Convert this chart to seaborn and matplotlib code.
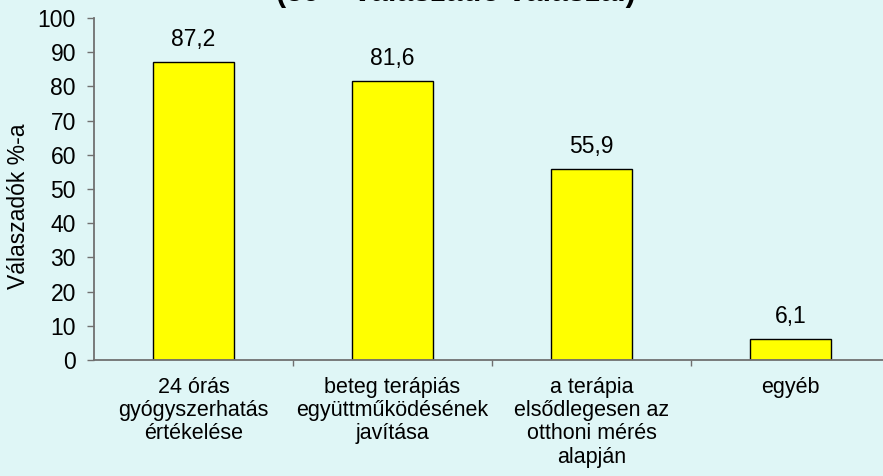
import matplotlib
matplotlib.use("Agg")
import matplotlib.pyplot as plt
import seaborn as sns
import pandas as pd

categories = ["24 órás\ngyógyszerhatás\nértékelése",
              "beteg terápiás\negyüttműködésének\njavítása",
              "a terápia\nelsődlegesen az\notthoni mérés\nalapján",
              "egyéb"]
values = [87.2, 81.6, 55.9, 6.1]
value_labels = ["87,2", "81,6", "55,9", "6,1"]
y_ticks = [0, 10, 20, 30, 40, 50, 60, 70, 80, 90, 100]
title_text = "(59 – válaszadó válaszai)"
ylabel = "Válaszadók %-a"

sns.set_theme(style="white")
plt.rcParams['font.family'] = ['Liberation Sans', 'DejaVu Sans']

bg = "#DFF6F6"
fig = plt.figure(figsize=(8.83, 4.76), dpi=100, facecolor=bg)
ax = fig.add_axes([94/883, 116/476, 796/883, 342/476], facecolor=bg)

df = pd.DataFrame({"cat": categories, "val": values})
sns.barplot(data=df, x="cat", y="val", ax=ax, color="#FFFF00",
            edgecolor="black", linewidth=1.0, width=0.41, saturation=1)

for i, (v, lab) in enumerate(zip(values, value_labels)):
    ax.annotate(lab, (i, v), xytext=(0, 8), textcoords="offset points",
                ha="center", va="bottom", fontsize=16.5, color="black")

ax.set_xlim(-0.5, 3.5)
ax.set_ylim(0, 100)
ax.set_yticks(y_ticks)
ax.set_yticklabels([str(t) for t in y_ticks], fontsize=16.5, color="black")
ax.tick_params(axis="y", direction="out", length=5, width=1, color="#707070",
               left=True, pad=8)
ax.set_xticks(range(len(categories)))
ax.set_xticklabels(categories, fontsize=15.5, color="black", linespacing=1.15)
ax.set_xticks([0.5, 1.5, 2.5], minor=True)
ax.tick_params(axis="x", which="major", length=0, pad=12, bottom=True)
ax.tick_params(axis="x", which="minor", direction="out", length=4, width=1,
               color="#707070", bottom=True)
ax.set_xlabel("")
ax.set_ylabel(ylabel, fontsize=16.5, color="black")
ax.yaxis.set_label_coords(-0.0804, 0.449)

for s in ["top", "right"]:
    ax.spines[s].set_visible(False)
for s in ["left", "bottom"]:
    ax.spines[s].set_visible(True)
    ax.spines[s].set_color("#707070")
    ax.spines[s].set_linewidth(1.3)

fig.text(456/883, (476-1)/476, title_text, ha="center", va="baseline",
         fontsize=22, fontweight="bold", color="black")

fig.savefig("out.png", dpi=100, facecolor=bg)
